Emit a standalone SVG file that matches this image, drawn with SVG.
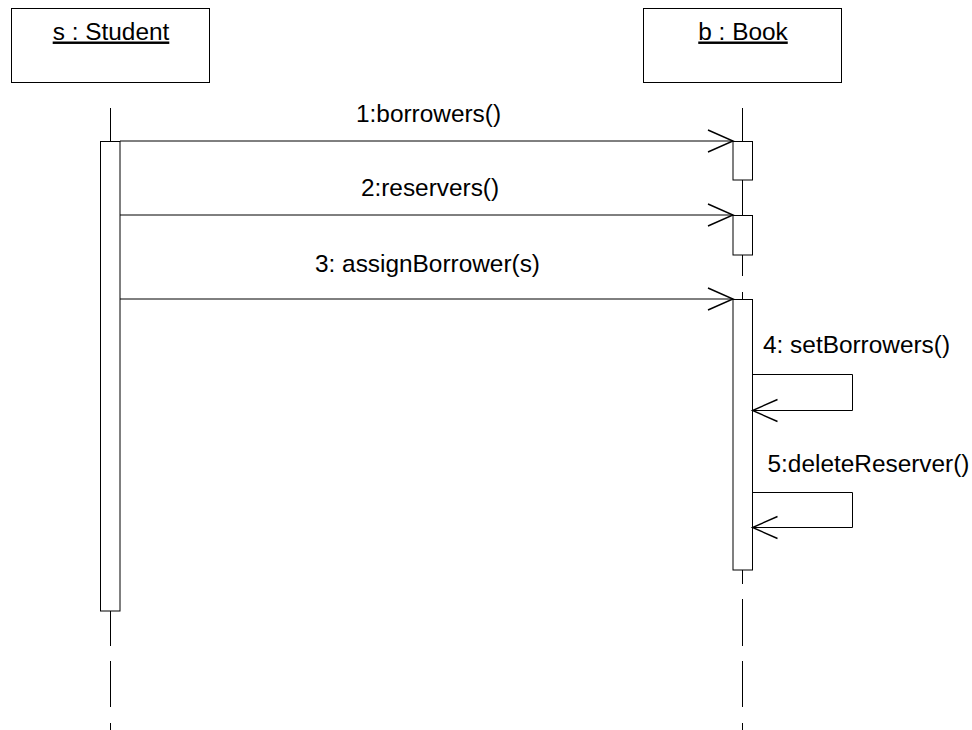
<svg xmlns="http://www.w3.org/2000/svg" width="972" height="730" viewBox="0 0 972 730">
<defs>
<style>
.box{fill:#fff;stroke:#000;stroke-width:1}
.act{fill:#fff;stroke:#000;stroke-width:1}
.life{stroke:#000;stroke-width:1;fill:none}
.msg{stroke:#000;stroke-width:1;fill:none;marker-end:url(#open)}
.t{font-family:"Liberation Sans",Arial,sans-serif;font-size:24.4px;fill:#000}
.c{text-anchor:middle}
</style>
<marker id="open" markerUnits="userSpaceOnUse" markerWidth="30" markerHeight="26" refX="25" refY="11" orient="auto" overflow="visible">
<path d="M0,0 L25,11 L0,22" fill="none" stroke="#000" stroke-width="1.4"/>
</marker>
</defs>
<rect width="972" height="730" fill="#fff"/>

<g id="lifelines">
<path class="life" d="M110.5,108 V141 M110.5,611 V646 M110.5,661 V707 M110.5,723 V730"/>
<path class="life" d="M742.5,108 V141 M742.5,180 V215 M742.5,255 V276 M742.5,292 V299 M742.5,570 V584 M742.5,599 V646 M742.5,661 V707 M742.5,723 V730"/>
</g>

<g id="student">
<rect class="box" x="11.5" y="8.5" width="198" height="74"/>
<text class="t c" x="111" y="39.5" text-decoration="underline">s : Student</text>
<rect class="act" x="100.5" y="141.5" width="19.5" height="469.5"/>
</g>

<g id="book">
<rect class="box" x="643.5" y="8.5" width="198" height="74"/>
<text class="t c" x="743" y="39.5" text-decoration="underline">b : Book</text>
<rect class="act" x="733" y="141.5" width="19.5" height="38.5"/>
<rect class="act" x="733" y="215.5" width="19.5" height="39.5"/>
<rect class="act" x="733" y="299.5" width="19.5" height="270.5"/>
</g>

<g id="connectors">
<path class="msg" d="M120,141 H733"/>
<path class="msg" d="M120,215 H733"/>
<path class="msg" d="M120,299 H733"/>
<path class="msg" d="M752.5,374.5 H852.5 V410.5 H752.5"/>
<path class="msg" d="M752.5,492.5 H852.5 V527.5 H752.5"/>
</g>

<g id="labels">
<text class="t c" x="428.5" y="122">1:borrowers()</text>
<text class="t c" x="430" y="196">2:reservers()</text>
<text class="t c" x="427.5" y="272">3: assignBorrower(s)</text>
<text class="t" x="763" y="353">4: setBorrowers()</text>
<text class="t" x="767.5" y="472">5:deleteReserver()</text>
</g>
</svg>
